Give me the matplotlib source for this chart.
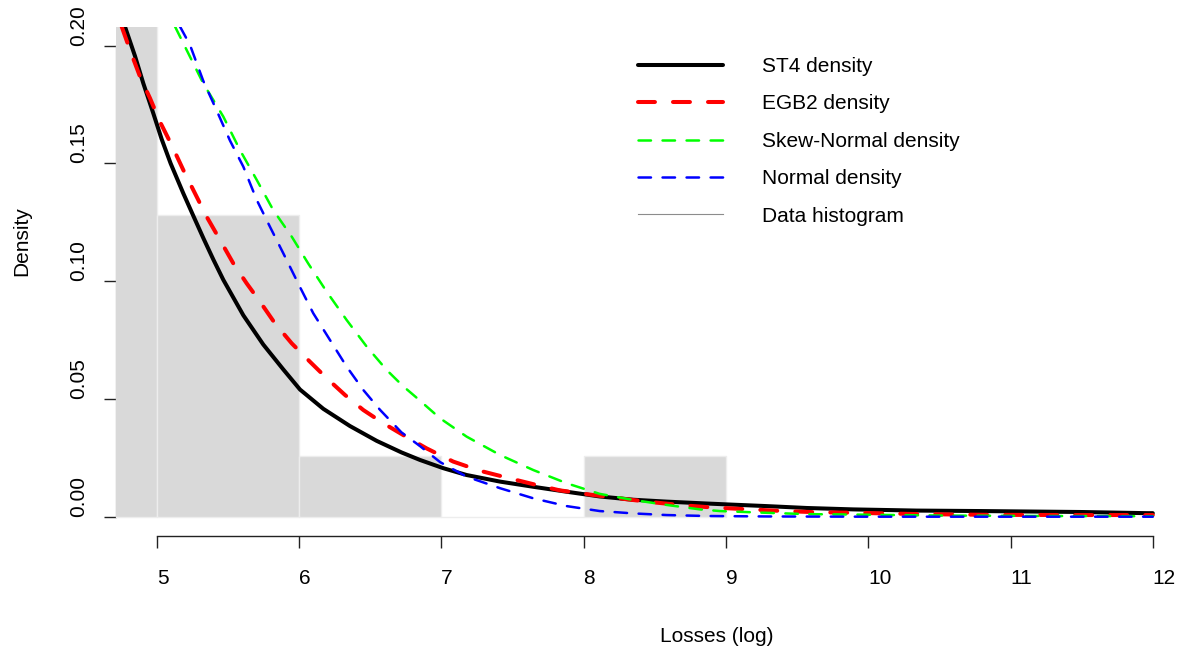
import matplotlib
matplotlib.use("Agg")
import matplotlib.pyplot as plt
from matplotlib.lines import Line2D

plt.rcParams['font.family'] = ['Liberation Sans', 'DejaVu Sans']
plt.rcParams['lines.scale_dashes'] = False

# ---- data ----
hist_left = [4, 5, 6, 7, 8]
hist_density = [0.30, 5 / 39, 1 / 39, 0.0, 1 / 39]

st4_x = [4.777, 4.848, 4.906, 4.976, 5.035, 5.098, 5.187, 5.257, 5.33, 5.398, 5.468, 5.609,
         5.749, 5.890, 6.007, 6.171, 6.358, 6.546, 6.72, 6.850, 7.014, 7.178, 7.413, 7.647,
         7.881, 8.113, 8.349, 8.584, 8.865, 9.052, 9.287, 9.568, 9.895, 10.34, 10.79, 11.49,
         11.96, 12.0]
st4_y = [0.2081, 0.1955, 0.1840, 0.1713, 0.1603, 0.1500, 0.1373, 0.1278, 0.1180, 0.1092, 0.1006, 0.0855,
         0.0731, 0.0625, 0.0540, 0.0458, 0.0385, 0.0322, 0.0273, 0.0241, 0.0206, 0.0177, 0.0149, 0.0127,
         0.0106, 0.0086, 0.0072, 0.0064, 0.0056, 0.0051, 0.0045, 0.0037, 0.0031, 0.0026, 0.0024, 0.0020,
         0.0015, 0.0015]

egb2_x = [4.754, 4.812, 4.883, 4.953, 5.023, 5.105, 5.187, 5.269, 5.351, 5.445, 5.538, 5.632,
          5.726, 5.831, 5.949, 6.077, 6.195, 6.323, 6.452, 6.592, 6.74, 6.897, 7.084, 7.272,
          7.460, 7.647, 7.831, 8.068, 8.303, 8.490, 8.725, 8.912, 9.169, 9.404, 9.638, 9.872,
          10.11, 10.36, 10.83, 11.5, 12.0]
egb2_y = [0.2081, 0.1982, 0.1868, 0.1777, 0.1677, 0.1578, 0.1472, 0.1373, 0.1274, 0.1175, 0.1076, 0.0991,
          0.0913, 0.0821, 0.0736, 0.0658, 0.0588, 0.0517, 0.0453, 0.0397, 0.0344, 0.0290, 0.0234, 0.0195,
          0.0166, 0.0138, 0.0112, 0.0092, 0.0074, 0.0061, 0.0047, 0.0039, 0.0031, 0.0024, 0.0019, 0.0017,
          0.0014, 0.0011, 0.0008, 0.0007, 0.0007]

sn_x = [5.129, 5.234, 5.327, 5.468, 5.585, 5.703, 5.819, 5.949, 6.065, 6.195, 6.335,
        6.476, 6.616, 6.73, 6.827, 6.991, 7.178, 7.413, 7.647, 7.881, 8.113, 8.349, 8.584,
        8.818, 8.958, 9.263, 9.568, 9.895, 10.5, 11.2, 12.0]
sn_y = [0.2081, 0.1953, 0.1840, 0.1699, 0.1557, 0.1430, 0.1302, 0.1189, 0.1075, 0.0955, 0.0835,
        0.0722, 0.0623, 0.0555, 0.0505, 0.0418, 0.0340, 0.0262, 0.0198, 0.0142, 0.0097, 0.0071, 0.0050,
        0.0031, 0.0024, 0.0017, 0.0011, 0.0009, 0.0005, 0.0003, 0.0002]

norm_x = [5.164, 5.234, 5.327, 5.422, 5.515, 5.609, 5.703, 5.796, 5.890, 6.007, 6.100,
          6.218, 6.335, 6.452, 6.569, 6.72, 6.850, 6.991, 7.178, 7.413, 7.647, 7.881, 8.113,
          8.349, 8.584, 8.865, 9.3, 10.0, 11.0, 12.0]
norm_y = [0.2081, 0.2003, 0.1851, 0.1724, 0.1597, 0.1486, 0.1345, 0.1231, 0.1118, 0.0975, 0.0864,
          0.0750, 0.0637, 0.0538, 0.0454, 0.0358, 0.0300, 0.0232, 0.0170, 0.0121, 0.0078, 0.0045, 0.0024,
          0.0014, 0.0007, 0.0003, 0.0001, 0.0, 0.0, 0.0]

x_ticks = [5, 6, 7, 8, 9, 10, 11, 12]
y_ticks = [0.00, 0.05, 0.10, 0.15, 0.20]
y_tick_labels = ["0.00", "0.05", "0.10", "0.15", "0.20"]

labels = ["ST4 density", "EGB2 density", "Skew-Normal density", "Normal density", "Data histogram"]

# ---- figure ----
W, H = 1186, 653
fig = plt.figure(figsize=(W / 100, H / 100), dpi=100)
ax = fig.add_axes([116 / W, (H - 536) / H, (W - 116) / W, (536 - 27) / H])
ax.set_xlim(5 - (156.7 - 116) / 142.3, 5 + (W - 156.7) / 142.3)
ybot = -(536 - 516.7) / 2355
ax.set_ylim(ybot, (516.7 - 27) / 2355)

for s in ['top', 'right']:
    ax.spines[s].set_visible(False)
ax.spines['bottom'].set_position(('data', ybot))
ax.spines['left'].set_bounds(0, 0.2)
ax.spines['bottom'].set_bounds(5, 12)
ax.spines['left'].set_color('#b8b8b8')
ax.spines['bottom'].set_color('#222222')
ax.spines['left'].set_linewidth(1.0)
ax.spines['bottom'].set_linewidth(1.0)
ax.spines['left'].set_zorder(2)

ax.bar(hist_left, hist_density, width=1, align='edge', color='#d9d9d9',
       edgecolor='#ededed', linewidth=1.0, zorder=3)

ax.plot(st4_x, st4_y, color='black', lw=2.9, solid_capstyle='round',
        solid_joinstyle='round', zorder=5)
ax.plot(egb2_x, egb2_y, color='#ff0000', lw=2.9, dashes=(12.2, 13.0),
        dash_capstyle='round', zorder=5)
ax.plot(sn_x, sn_y, color='#00ff00', lw=1.8, dashes=(9.0, 8.3),
        dash_capstyle='round', zorder=5)
ax.plot(norm_x, norm_y, color='#0000ff', lw=1.8, dashes=(9.0, 8.3),
        dash_capstyle='round', zorder=5)

ax.set_xticks(x_ticks)
ax.set_yticks(y_ticks)
ax.tick_params(axis='both', direction='out', length=8.6, width=1.0, color='#222222',
               labelsize=15, labelcolor='black')
ax.tick_params(axis='x', pad=15)
ax.tick_params(axis='y', pad=11.5)
ax.set_xticklabels([str(t) for t in x_ticks], ha='left')
ax.set_yticklabels(y_tick_labels, rotation=90, va='bottom')

fig.text(716.5 / W, (H - 641.7) / H, "Losses (log)", ha='center', va='baseline', fontsize=15)
fig.text(22 / W, (H - 241.5) / H, "Density", ha='center', va='center', rotation=90, fontsize=15)

handles = [
    Line2D([], [], color='black', lw=2.9, solid_capstyle='round'),
    Line2D([], [], color='#ff0000', lw=2.9, dashes=(12.2, 13.0), dash_capstyle='round'),
    Line2D([], [], color='#00ff00', lw=1.8, dashes=(9.0, 8.3), dash_capstyle='round'),
    Line2D([], [], color='#0000ff', lw=1.8, dashes=(9.0, 8.3), dash_capstyle='round'),
    Line2D([], [], color='#8c8c8c', lw=0.8),
]
leg = ax.legend(handles, labels, loc='upper left',
                bbox_to_anchor=(638 / W, (H - 57) / H), bbox_transform=fig.transFigure,
                frameon=False, fontsize=15, handlelength=85 / 20.8, handletextpad=39 / 20.8,
                labelspacing=0.885, borderpad=0, borderaxespad=0)

fig.savefig("out.png", dpi=100)
